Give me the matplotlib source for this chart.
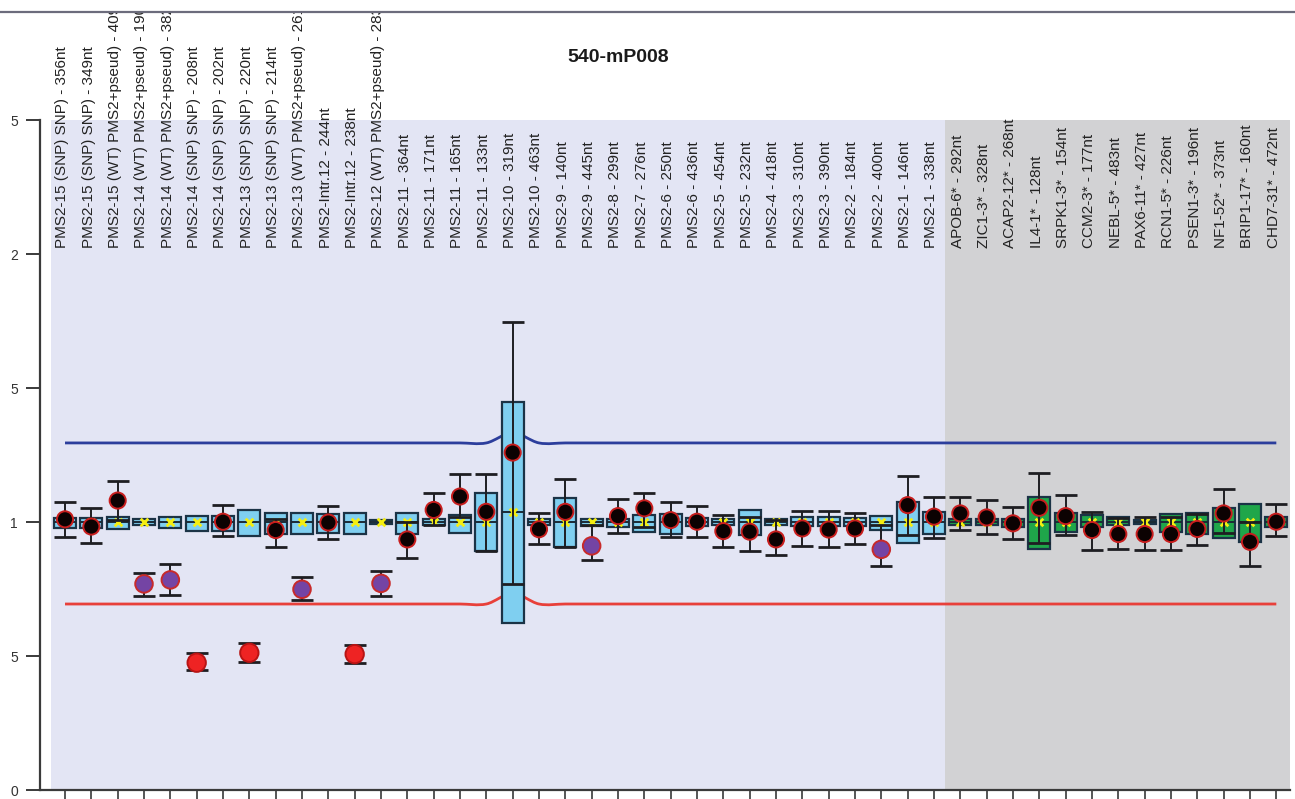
import matplotlib
matplotlib.use("Agg")
import matplotlib.pyplot as plt
from matplotlib.lines import Line2D
from matplotlib.path import Path
from matplotlib.patches import PathPatch
from matplotlib.transforms import Bbox, TransformedBbox
import numpy as np

plt.rcParams['font.family'] = ['Liberation Sans', 'DejaVu Sans']

title = "540-mP008"

probes = [
    "PMS2-15 (SNP) SNP) - 356nt", "PMS2-15 (SNP) SNP) - 349nt",
    "PMS2-15 (WT) PMS2+pseud) - 409", "PMS2-14 (WT) PMS2+pseud) - 190",
    "PMS2-14 (WT) PMS2+pseud) - 382", "PMS2-14 (SNP) SNP) - 208nt",
    "PMS2-14 (SNP) SNP) - 202nt", "PMS2-13 (SNP) SNP) - 220nt",
    "PMS2-13 (SNP) SNP) - 214nt", "PMS2-13 (WT) PMS2+pseud) - 261",
    "PMS2-Intr.12 - 244nt", "PMS2-Intr.12 - 238nt",
    "PMS2-12 (WT) PMS2+pseud) - 283", "PMS2-11 - 364nt", "PMS2-11 - 171nt",
    "PMS2-11 - 165nt", "PMS2-11 - 133nt", "PMS2-10 - 319nt", "PMS2-10 - 463nt",
    "PMS2-9 - 140nt", "PMS2-9 - 445nt", "PMS2-8 - 299nt", "PMS2-7 - 276nt",
    "PMS2-6 - 250nt", "PMS2-6 - 436nt", "PMS2-5 - 454nt", "PMS2-5 - 232nt",
    "PMS2-4 - 418nt", "PMS2-3 - 310nt", "PMS2-3 - 390nt", "PMS2-2 - 184nt",
    "PMS2-2 - 400nt", "PMS2-1 - 146nt", "PMS2-1 - 338nt",
    "APOB-6* - 292nt", "ZIC1-3* - 328nt", "ACAP2-12* - 268nt", "IL4-1* - 128nt",
    "SRPK1-3* - 154nt", "CCM2-3* - 177nt", "NEBL-5* - 483nt", "PAX6-11* - 427nt",
    "RCN1-5* - 226nt", "PSEN1-3* - 196nt", "NF1-52* - 373nt", "BRIP1-17* - 160nt",
    "CHD7-31* - 472nt",
]
n_target = 34  # first 34 probes are PMS2, the rest are reference probes

# sample ratio and its confidence interval
ratio = [1.010, 0.983, 1.080, 0.769, 0.784, 0.475, 1.001, 0.512, 0.970, 0.749,
         0.998, 0.507, 0.771, 0.935, 1.045, 1.095, 1.038, 1.259, 0.973, 1.038,
         0.911, 1.022, 1.051, 1.007, 1.001, 0.966, 0.964, 0.935, 0.976, 0.972,
         0.976, 0.898, 1.063, 1.020,
         1.032, 1.017, 0.995, 1.053, 1.022, 0.970, 0.955, 0.955, 0.955, 0.974,
         1.032, 0.926, 1.001]
ci_low = [0.945, 0.923, 1.007, 0.724, 0.728, 0.448, 0.949, 0.479, 0.908, 0.709,
          0.935, 0.473, 0.724, 0.867, 0.990, 1.020, 0.893, 0.769, 0.917, 0.908,
          0.858, 0.960, 0.980, 0.945, 0.943, 0.905, 0.892, 0.877, 0.910, 0.908,
          0.918, 0.836, 0.950, 0.939,
          0.970, 0.954, 0.938, 0.920, 0.951, 0.896, 0.901, 0.896, 0.896, 0.914,
          0.960, 0.836, 0.948]
ci_high = [1.073, 1.051, 1.153, 0.811, 0.842, 0.510, 1.063, 0.547, 1.010, 0.796,
           1.060, 0.541, 0.818, 1.000, 1.107, 1.178, 1.178, 1.748, 1.032, 1.160,
           0.990, 1.085, 1.109, 1.073, 1.060, 1.026, 1.020, 1.007, 1.042, 1.042,
           1.035, 0.990, 1.172, 1.095,
           1.095, 1.082, 1.057, 1.182, 1.101, 1.038, 1.015, 1.017, 1.020, 1.030,
           1.122, 1.000, 1.066]

# reference sample spread (box) and median
ref_low = [0.978, 0.978, 0.974, 0.990, 0.978, 0.966, 0.966, 0.948, 0.955, 0.955,
           0.960, 0.955, 0.992, 0.955, 0.988, 0.958, 0.893, 0.624, 0.990, 0.908,
           0.985, 0.980, 0.964, 0.955, 0.985, 0.990, 0.951, 0.990, 0.985, 0.985,
           0.985, 0.970, 0.920, 0.957,
           0.990, 0.990, 0.982, 0.898, 0.963, 0.982, 0.990, 0.992, 0.963, 0.955,
           0.942, 0.926, 0.980]
ref_high = [1.015, 1.015, 1.018, 1.010, 1.018, 1.022, 1.022, 1.045, 1.035, 1.035,
            1.030, 1.035, 1.008, 1.035, 1.012, 1.026, 1.107, 1.449, 1.010, 1.088,
            1.012, 1.012, 1.026, 1.030, 1.015, 1.010, 1.045, 1.010, 1.020, 1.020,
            1.015, 1.022, 1.075, 1.038,
            1.010, 1.010, 1.012, 1.092, 1.032, 1.026, 1.020, 1.008, 1.030, 1.034,
            1.051, 1.066, 1.020]
ref_median = [1.0] * 17 + [1.038] + [1.0] * 29

# call per probe: n = normal, g = borderline (purple), d = deletion
call = ["n", "n", "n", "g", "g", "d", "n", "d", "n", "g",
        "n", "d", "g", "n", "n", "n", "n", "n", "n", "n",
        "g", "n", "n", "n", "n", "n", "n", "n", "n", "n",
        "n", "g", "n", "n",
        "n", "n", "n", "n", "n", "n", "n", "n", "n", "n",
        "n", "n", "n"]

# arbitration limits per probe
upper_limit = [1.295] * 17 + [1.333] + [1.295] * 29
lower_limit = [0.694] * 17 + [0.734] + [0.694] * 29

ytick_vals = [0, 0.5, 1, 1.5, 2, 2.5]
ytick_text = ["0", "5", "1", "5", "2", "5"]

x = np.arange(1, len(probes) + 1)


def smooth_path(xs, ys):
    # Catmull-Rom curve through the points, written as cubic Bezier pieces
    xs = np.asarray(xs, float)
    ys = np.asarray(ys, float)
    verts = [(xs[0], ys[0])]
    codes = [Path.MOVETO]
    for i in range(len(xs) - 1):
        y0 = ys[i - 1] if i > 0 else ys[i]
        y3 = ys[i + 2] if i + 2 < len(ys) else ys[i + 1]
        t1 = (ys[i + 1] - y0) / 2
        t2 = (y3 - ys[i]) / 2
        verts += [(xs[i] + 1 / 3, ys[i] + t1 / 3),
                  (xs[i + 1] - 1 / 3, ys[i + 1] - t2 / 3),
                  (xs[i + 1], ys[i + 1])]
        codes += [Path.CURVE4] * 3
    return Path(verts, codes)


fig = plt.figure(figsize=(12.95, 7.99), dpi=100)
ax = fig.add_axes([40 / 1295, 9 / 799, 1250 / 1295, 670 / 799])
ax.set_xlim(0.05, 47.52)
ax.set_ylim(0, 2.5)

# probe group backgrounds
ax.axvspan(0.47, n_target + 0.42, color="#E3E5F4", zorder=0, lw=0)
ax.axvspan(n_target + 0.42, 47.52, color="#D2D2D4", zorder=0, lw=0)

# limits
ax.add_patch(PathPatch(smooth_path(x, upper_limit), fill=False,
                       edgecolor="#2C3E9C", lw=2, zorder=2))
ax.add_patch(PathPatch(smooth_path(x, lower_limit), fill=False,
                       edgecolor="#E8403A", lw=2, zorder=2))

# reference boxes
box_colors = ["#7FCFF0"] * n_target + ["#1FA64A"] * (len(probes) - n_target)
heights = np.array(ref_high) - np.array(ref_low)
ax.bar(x, heights, bottom=ref_low, width=0.84, color=box_colors,
       edgecolor="#1B3346", linewidth=1.6, zorder=3)
ax.hlines(ref_median, x - 0.42, x + 0.42, color="#1B2A36", lw=1.4, zorder=4)
ax.scatter(x, ref_median, marker="x", s=30, color="#F5EE10", linewidths=2,
           zorder=5)

# sample ratios with confidence interval
r = np.array(ratio)
ax.errorbar(x, r, yerr=[r - np.array(ci_low), np.array(ci_high) - r],
            fmt="none", ecolor="#1E1E22", elinewidth=1.4, capsize=8,
            capthick=2, zorder=6)

dot_face = {"n": "#0C0202", "g": "#7444A4", "d": "#EE2323"}
dot_edge = {"n": "#C81E1E", "g": "#C82A2A", "d": "#B81414"}
dot_size = {"n": 135, "g": 160, "d": 175}
ax.scatter(x, r, s=[dot_size[c] for c in call],
           c=[dot_face[c] for c in call],
           edgecolors=[dot_edge[c] for c in call], linewidths=1.4, zorder=7)

# probe names above the plot, cut off at the window frame
frame_y = 1 - 13 / 799
label_clip = TransformedBbox(Bbox([[0, 0], [1, frame_y]]), fig.transFigure)
for xi, name in zip(x, probes):
    t = ax.text(xi - 0.1, 2.022, name, rotation=90, ha="center", va="bottom",
                fontsize=11.0, color="#222222", zorder=8)
    t.set_clip_box(label_clip)
    t.set_clip_on(True)

ax.text(21.99, 2.735, title, ha="center", va="center", fontsize=14,
        fontweight="bold", color="#1A1A1A", clip_on=False)

# axes styling
for side in ["top", "right"]:
    ax.spines[side].set_visible(False)
for side in ["left", "bottom"]:
    ax.spines[side].set_color("#3A3A3A")
    ax.spines[side].set_linewidth(1.6)
ax.set_yticks(ytick_vals)
ax.set_yticklabels(ytick_text, fontsize=10, color="#333333")
ax.tick_params(axis="y", direction="out", length=10, width=1.4,
               color="#3A3A3A", pad=6)
ax.set_xticks(x)
ax.set_xticklabels([])
ax.tick_params(axis="x", direction="out", length=8, width=1.2,
               color="#3A3A3A")

# window frame line along the top
fig.add_artist(Line2D([0, 1], [1 - 12 / 799] * 2, transform=fig.transFigure,
                      color="#6C6C7C", lw=1.6))

fig.savefig("out.png", dpi=100)
